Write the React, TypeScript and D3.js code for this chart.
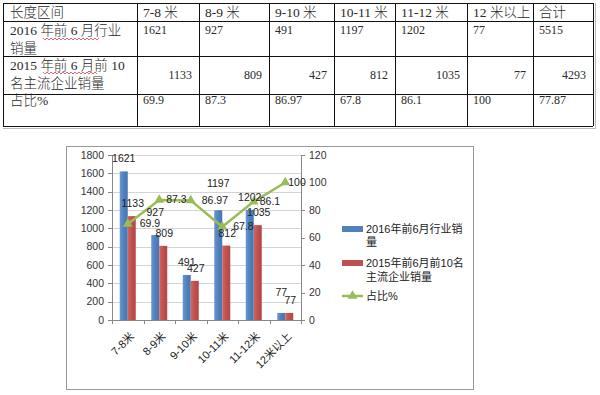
import React from 'react';
import * as d3 from 'd3';

// ---------- data ----------
const categories = ['7-8米', '8-9米', '9-10米', '10-11米', '11-12米', '12米以上'];
const sales2016 = [1621, 927, 491, 1197, 1202, 77];
const top10Sales2015 = [1133, 809, 427, 812, 1035, 77];
const sharePct = [69.9, 87.3, 86.97, 67.8, 86.1, 100];
const shareText = ['69.9', '87.3', '86.97', '67.8', '86.1', '100'];

const tableHeader = ['长度区间', '7-8 米', '8-9 米', '9-10 米', '10-11 米', '11-12 米', '12 米以上', '合计'];
const rowSalesLabel = ['2016 年前 6 月行业', '销量'];
const rowTop10Label = ['2015 年前 6 月前 10', '名主流企业销量'];
const rowShareLabel = '占比%';
const totalSales2016 = 5515;
const totalTop10 = 4293;
const totalShare = '77.87';

const leftTicks = [0, 200, 400, 600, 800, 1000, 1200, 1400, 1600, 1800];
const rightTicks = [0, 20, 40, 60, 80, 100, 120];
const legendBlue = ['2016年前6月行业销', '量'];
const legendRed = ['2015年前6月前10名', '主流企业销量'];
const legendLine = '占比%';

// ---------- layout ----------
const colX = [3, 137, 199, 269, 334, 395, 467, 533, 593];
const rowY = [3, 21, 56, 94, 126];
const blueLabelShift = [0, -10, 0, -14, 0, -8];
const shareLabelDx = [12, 7, 11, 11, 6, 3];

const BLUE = '#4F81BD';
const RED = '#C0504D';
const GREEN = '#9BBB59';
const tableFont = '"Liberation Serif", "Noto Sans CJK SC", serif';
const chartFont = '"Liberation Sans", "Noto Sans CJK SC", sans-serif';

function squiggle(x0: number, x1: number, y: number) {
  const pts: [number, number][] = [];
  let up = true;
  for (let x = x0; x <= x1; x += 2) {
    pts.push([x, up ? y - 1 : y + 1]);
    up = !up;
  }
  return d3.line()(pts) || '';
}

function Table() {
  const salesVals = [...sales2016.map(String), String(totalSales2016)];
  const top10Vals = [...top10Sales2015.map(String), String(totalTop10)];
  const shareVals = [...shareText, totalShare];
  return (
    <g fontFamily={tableFont} fill="#2a2a2a">
      {rowY.map((y, i) => (
        <line key={'h' + i} x1={colX[0]} x2={colX[colX.length - 1]} y1={y + 0.5} y2={y + 0.5} stroke="#111" strokeWidth={1} />
      ))}
      {colX.map((x, i) => (
        <line key={'v' + i} x1={x + 0.5} x2={x + 0.5} y1={rowY[0]} y2={rowY[rowY.length - 1]} stroke="#111" strokeWidth={1} />
      ))}
      <line x1={colX[8] + 2.5} x2={colX[8] + 2.5} y1={rowY[0]} y2={rowY[4] + 3} stroke="#bbb" />
      <line x1={colX[0]} x2={colX[8] + 3} y1={rowY[4] + 2.5} y2={rowY[4] + 2.5} stroke="#bbb" />
      <g fontWeight={300}>
        {tableHeader.map((t, i) => (
          <text key={'th' + i} x={colX[i] + (i === 0 ? 7 : 6)} y={17} fontSize={13.5}>{t}</text>
        ))}
        <text x={10} y={35} fontSize={13.5}>{rowSalesLabel[0]}</text>
        <text x={10} y={53} fontSize={13.5}>{rowSalesLabel[1]}</text>
        <text x={10} y={70} fontSize={13.5}>{rowTop10Label[0]}</text>
        <text x={10} y={88} fontSize={13.5}>{rowTop10Label[1]}</text>
        <text x={10} y={105} fontSize={13.5}>{rowShareLabel}</text>
      </g>
      <path d={squiggle(43, 100, 39)} stroke="#d44" strokeWidth={0.8} fill="none" />
      <path d={squiggle(43, 98, 73)} stroke="#d44" strokeWidth={0.8} fill="none" />
      {salesVals.map((v, i) => (
        <text key={'s' + i} x={colX[i + 1] + 6} y={34} fontSize={12}>{v}</text>
      ))}
      {top10Vals.map((v, i) => (
        <text key={'t' + i} x={colX[i + 2] - 7} y={79} fontSize={12} textAnchor="end">{v}</text>
      ))}
      {shareVals.map((v, i) => (
        <text key={'p' + i} x={colX[i + 1] + 6} y={104} fontSize={12}>{v}</text>
      ))}
    </g>
  );
}

function Chart() {
  const x = d3.scaleBand<string>().domain(categories).range([112, 301]);
  const yL = d3.scaleLinear().domain([0, 1800]).range([320, 155]);
  const yR = d3.scaleLinear().domain([0, 120]).range([320, 155]);
  const cx = (c: string) => (x(c) as number) + x.bandwidth() / 2;
  const barW = 8;
  const line = d3.line<number>().x((_, i) => cx(categories[i])).y((d) => yR(d));
  const tri = d3.symbol().type(d3.symbolTriangle).size(42)() || '';
  const axisColor = '#888';
  return (
    <g fontFamily={chartFont}>
      <defs>
        <linearGradient id="gb" x1="0" x2="1" y1="0" y2="0">
          <stop offset="0" stopColor="#6A97CF" />
          <stop offset="0.5" stopColor={BLUE} />
          <stop offset="1" stopColor="#4676B0" />
        </linearGradient>
        <linearGradient id="gr" x1="0" x2="1" y1="0" y2="0">
          <stop offset="0" stopColor="#D16562" />
          <stop offset="0.5" stopColor={RED} />
          <stop offset="1" stopColor="#B04844" />
        </linearGradient>
      </defs>
      <rect x={66.5} y={146.5} width={407} height={243} fill="#fff" stroke="#999" />
      {leftTicks.filter((t) => t > 0).map((t) => (
        <line key={'g' + t} x1={112} x2={301} y1={Math.round(yL(t)) + 0.5} y2={Math.round(yL(t)) + 0.5} stroke="#D4D4D4" />
      ))}
      <line x1={112.5} x2={112.5} y1={yL(1800)} y2={yL(0)} stroke={axisColor} />
      {leftTicks.map((t) => (
        <g key={'l' + t}>
          <line x1={108} x2={112} y1={Math.round(yL(t)) + 0.5} y2={Math.round(yL(t)) + 0.5} stroke={axisColor} />
          <text x={104} y={yL(t) + 3.5} fontSize={10.5} textAnchor="end" fill="#333">{t}</text>
        </g>
      ))}
      <line x1={301.5} x2={301.5} y1={yR(120)} y2={yR(0)} stroke={axisColor} />
      {rightTicks.map((t) => (
        <g key={'r' + t}>
          <line x1={301} x2={305} y1={Math.round(yR(t)) + 0.5} y2={Math.round(yR(t)) + 0.5} stroke={axisColor} />
          <text x={309} y={yR(t) + 3.5} fontSize={10.5} fill="#333">{t}</text>
        </g>
      ))}
      {categories.map((c, i) => (
        <g key={'b' + c}>
          <rect x={cx(c) - barW} y={yL(sales2016[i])} width={barW} height={yL(0) - yL(sales2016[i])} fill="url(#gb)" />
          <rect x={cx(c)} y={yL(top10Sales2015[i])} width={barW} height={yL(0) - yL(top10Sales2015[i])} fill="url(#gr)" />
        </g>
      ))}
      <line x1={112} x2={301} y1={320.5} y2={320.5} stroke={axisColor} />
      {[...categories.map((c) => x(c) as number), 301].map((bx, i) => (
        <line key={'xt' + i} x1={Math.round(bx) + 0.5} x2={Math.round(bx) + 0.5} y1={320} y2={324} stroke={axisColor} />
      ))}
      {categories.map((c) => (
        <text key={'xl' + c} transform={`translate(${cx(c) + 7},${337}) rotate(-45)`} fontSize={11} textAnchor="end" fill="#222">{c}</text>
      ))}
      <path d={line(sharePct) || ''} fill="none" stroke={GREEN} strokeWidth={2.5} />
      {sharePct.map((v, i) => (
        <path key={'m' + i} d={tri} transform={`translate(${cx(categories[i])},${yR(v)})`} fill={GREEN} />
      ))}
      {categories.map((c, i) => (
        <g key={'dl' + c} fontSize={10.5} fill="#222">
          <text x={cx(c) - barW / 2} y={yL(sales2016[i]) - 9 + blueLabelShift[i]} textAnchor="middle">{sales2016[i]}</text>
          <text x={cx(c) + barW / 2 + 1} y={yL(top10Sales2015[i]) - 9} textAnchor="middle">{top10Sales2015[i]}</text>
          <text x={cx(c) + shareLabelDx[i]} y={yR(sharePct[i]) + 3.5}>{shareText[i]}</text>
        </g>
      ))}
      <g fontSize={11} fill="#222">
        <rect x={342} y={226} width={21} height={6} fill={BLUE} />
        <text x={366} y={233}>{legendBlue[0]}</text>
        <text x={366} y={246}>{legendBlue[1]}</text>
        <rect x={342} y={260} width={21} height={6} fill={RED} />
        <text x={366} y={267}>{legendRed[0]}</text>
        <text x={366} y={281}>{legendRed[1]}</text>
        <line x1={342} x2={363} y1={296} y2={296} stroke={GREEN} strokeWidth={2.5} />
        <path d={tri} transform="translate(352.5,296)" fill={GREEN} />
        <text x={366} y={300}>{legendLine}</text>
      </g>
    </g>
  );
}

export default function App() {
  return (
    <svg width={600} height={395} style={{ position: 'absolute', left: 0, top: 0, background: '#fff' }}>
      <rect width={600} height={395} fill="#fff" />
      <Table />
      <Chart />
    </svg>
  );
}
